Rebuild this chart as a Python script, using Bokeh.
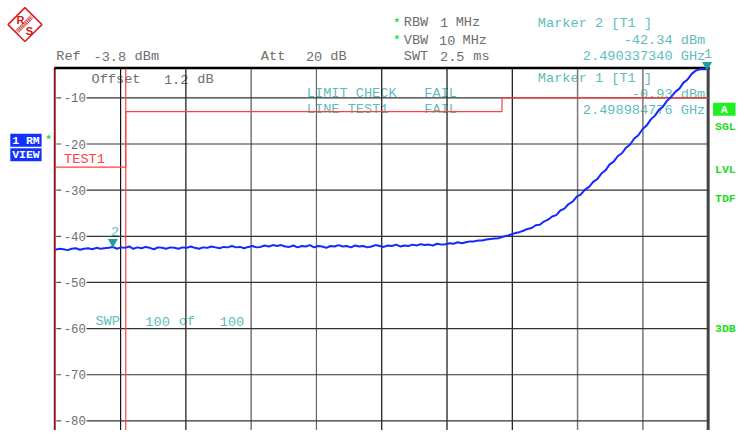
import numpy as np
from bokeh.plotting import figure
from bokeh.models import Range1d
from bokeh.core.properties import value
from bokeh.embed import file_html
from bokeh.resources import INLINE

# ---------------- data ----------------
f_start = 2489.5      # MHz, left edge of graticule
f_stop = 2499.0       # MHz, right edge of graticule
ref_level = -3.8      # dBm, top of graticule

trace_db = [
    -42.9, -42.7, -42.8, -43.0, -42.7, -42.6, -42.9, -42.7, -42.6, -42.8,
    -42.5, -42.7, -42.6, -42.5, -42.3, -42.7, -42.4, -42.5, -42.2, -42.7,
    -42.4, -42.6, -42.3, -42.5, -42.8, -42.4, -42.5, -42.7, -42.4, -42.5,
    -42.7, -42.4, -42.5, -42.2, -42.5, -42.7, -42.4, -42.5, -42.2, -42.4,
    -42.6, -42.3, -42.4, -42.1, -42.4, -42.3, -42.6, -42.3, -42.1, -42.4,
    -42.3, -42.0, -42.2, -41.9, -42.1, -41.9, -42.2, -42.3, -42.0, -42.4,
    -42.1, -42.2, -41.9, -42.4, -42.1, -42.2, -42.5, -42.1, -42.2, -41.9,
    -42.2, -42.1, -42.4, -42.0, -42.2, -42.1, -42.4, -42.2, -41.9, -42.1,
    -42.3, -42.0, -42.1, -41.8, -42.2, -42.0, -42.1, -41.8, -42.0, -41.7,
    -41.9, -41.8, -42.0, -41.6, -41.8, -41.7, -41.5, -41.6, -41.3, -41.5,
    -41.3, -41.1, -41.1, -40.9, -40.9, -40.7, -40.6, -40.5, -40.4, -40.1,
    -39.9, -39.6, -39.3, -39.1, -38.8, -38.4, -38.2, -37.6, -37.5, -36.8,
    -36.4, -35.7, -35.4, -34.4, -34.0, -33.0, -32.5, -31.4, -30.9, -29.9,
    -29.3, -28.2, -27.6, -26.4, -25.7, -24.4, -23.8, -22.6, -22.0, -20.8,
    -20.1, -18.8, -18.1, -16.8, -16.0, -14.7, -13.9, -12.6, -11.9, -10.6,
    -9.8, -8.7, -8.0, -6.7, -6.0, -4.8, -4.1, -2.9, -2.0, -0.9,
]

grid_levels = [-10, -20, -30, -40, -50, -60, -70, -80]
tick_labels = ["-10", "-20", "-30", "-40", "-50", "-60", "-70", "-80"]

limit_f = [2489.5, 2490.525, 2490.525, 2496.0, 2496.0, 2499.0]
limit_db = [-25.0, -25.0, -13.0, -13.0, -10.0, -10.0]
limit_edges_f = [2489.5, 2490.525]

marker_f = [2490.337340, 2498.984776]
marker_db = [-42.34, -0.93]

# ---------------- layout helpers (reference px -> data) ----------------
W, H = 738, 430
REF_W, REF_H = 754, 446
PX_MHZ = 667.0 / (f_stop - f_start)
PX_DB = 4.786


def X(sx):
    return f_start + (sx - 56) / PX_MHZ


def Y(sy):
    return -10 - (sy - 101) / PX_DB


p = figure(width=W, height=H, x_range=Range1d(X(0), X(REF_W)),
           y_range=Range1d(Y(REF_H), Y(0)), output_backend="svg",
           toolbar_location=None, x_axis_location=None, y_axis_location=None,
           min_border=0, min_border_left=0, min_border_right=0,
           min_border_top=0, min_border_bottom=0)
p.grid.visible = False
p.outline_line_color = None
p.background_fill_color = "white"
p.border_fill_color = "white"

MONO = "Liberation Mono"
GRAY = "#6e6e6e"
TEAL = "#5dbdbd"
RED = "#ff4040"
GREEN = "#22dd22"
FS = "13.6px"


def add_text(items, color, size, align="left", style="normal", font=MONO):
    p.text(x=[X(a) for a, _, _ in items], y=[Y(b) for _, b, _ in items],
           text=[t for _, _, t in items], text_color=color,
           text_font=value(font), text_font_size=size, text_align=align,
           text_baseline="middle", text_font_style=style)


# boxes
p.quad(left=[X(10), X(10)], right=[X(42), X(42)],
       top=[Y(138.3), Y(153.3)], bottom=[Y(151.7), Y(166.7)],
       fill_color="#1030ff", line_color=None)
p.quad(left=[X(728)], right=[X(751)], top=[Y(106)], bottom=[Y(119.5)],
       fill_color="#22ee22", line_color=None)

# texts
add_text([(57, 58, "Ref"), (95, 58, "-3.8"), (137, 58, "dBm"),
          (266, 58, "Att"), (312, 58, "20"), (337, 58, "dB"),
          (412, 23, "RBW"), (449, 23, "1"), (465, 23, "MHz"),
          (412, 41, "VBW"), (448, 41, "10"), (472, 41, "MHz"),
          (412, 58, "SWT"), (449, 58, "2.5"), (483, 58, "ms"),
          (93, 82, "Offset"), (167, 82, "1.2"), (201, 82, "dB")],
         GRAY, FS)
add_text([(549, 24, "Marker 2 [T1 ]"), (549, 80.5, "Marker 1 [T1 ]"),
          (313, 96.5, "LIMIT CHECK"), (433, 96.5, "FAIL"),
          (313, 113.5, "LINE TEST1"), (433, 113.5, "FAIL"),
          (97, 332.5, "SWP"), (148, 332.5, "100"), (182, 332.5, "of"),
          (224, 332.5, "100")], TEAL, FS)
add_text([(720, 41, "-42.34 dBm"), (720, 58, "2.490337340 GHz"),
          (720, 97.5, "-0.93 dBm"), (720, 114.3, "2.498984776 GHz")],
         TEAL, FS, align="right")
add_text([(117, 239.5, "2"), (723, 55, "1")], TEAL, FS, align="center")
add_text([(65, 164.5, "TEST1")], RED, FS)
add_text([(64.5, 101 + i * 47.86, t) for i, t in enumerate(tick_labels)],
         GRAY, "12.4px")
add_text([(730, 130.5, "SGL"), (730, 175, "LVL"), (730, 205.5, "TDF"),
          (730, 340.5, "3DB")], GREEN, "11.5px", style="bold")
add_text([(405, 23, "*"), (405, 41, "*"), (49, 145, "*")], GREEN, "11px",
         align="center", style="bold")
add_text([(26, 145, "1 RM"), (26, 160, "VIEW"), (739.5, 113, "A")], "white",
         "11.5px", align="center", style="bold")

# graticule
div_f = [f_start + k * (f_stop - f_start) / 10 for k in range(11)]
vcols = ["#111111", "#111111", "#111111", "#777777", "#666666", "#111111",
         "#111111", "#111111", "#777777", "#777777", "#444444"]
vwid = [1.2, 1.2, 1.2, 1.5, 1.2, 1.2, 1.2, 1.2, 1.5, 1.5, 3]
p.segment(x0=div_f, y0=[Y(70)] * 11, x1=div_f, y1=[Y(460)] * 11,
          line_color=vcols, line_width=vwid)
p.segment(x0=[X(88)] * len(grid_levels), y0=grid_levels,
          x1=[f_stop] * len(grid_levels), y1=grid_levels,
          line_color="#333333", line_width=1.2)
p.segment(x0=[X(57)] * len(grid_levels), y0=grid_levels,
          x1=[X(62)] * len(grid_levels), y1=grid_levels,
          line_color="#555555", line_width=1.2)
p.segment(x0=[X(55)], y0=[Y(70)], x1=[X(55)], y1=[Y(460)],
          line_color="#000000", line_width=1)

# limit line TEST1
p.line(limit_f, limit_db, line_color=RED, line_width=1.2)
p.segment(x0=limit_edges_f, y0=[ref_level] * 2, x1=limit_edges_f,
          y1=[Y(460)] * 2, line_color=RED, line_width=1.2)

# top frame
p.segment(x0=[X(55)], y0=[Y(70)], x1=[X(724.5)], y1=[Y(70)],
          line_color="#000000", line_width=2.5)

# trace
freq = np.linspace(f_start, f_stop, len(trace_db))
shown = np.minimum(np.array(trace_db), ref_level)
p.line(freq, shown, line_color="#1428ff", line_width=2)

# markers
m_y = [marker_db[0] + 5.3 / PX_DB, ref_level + 4.6 / PX_DB]
p.scatter(marker_f, m_y, marker="inverted_triangle", size=10,
          fill_color="#1f9e9e", line_color=None)

# R&S logo
p.scatter([X(25)], [Y(25)], marker="square", size=24, angle=np.pi / 4,
          fill_color=None, line_color="#d42020", line_width=1.5)
bx0, by0, bx1, by1 = [], [], [], []
for c in (-2.2, 0, 2.2):
    bx0.append(X(16.5 + c / 2)); by0.append(Y(32.5 + c / 2))
    bx1.append(X(32.5 + c / 2)); by1.append(Y(16.5 + c / 2))
for t in np.linspace(0.12, 0.88, 9):
    cx, cy = 16.5 + 16 * t, 32.5 - 16 * t
    bx0.append(X(cx - 1.6)); by0.append(Y(cy - 1.6))
    bx1.append(X(cx + 1.6)); by1.append(Y(cy + 1.6))
p.segment(x0=bx0, y0=by0, x1=bx1, y1=by1, line_color="#d42020", line_width=0.8)
add_text([(20.5, 20, "R"), (29.5, 31.5, "S")], "#c81e1e", "11px",
         align="center", style="bold", font="Liberation Sans")

open("out.html", "w").write(file_html(p, INLINE))
